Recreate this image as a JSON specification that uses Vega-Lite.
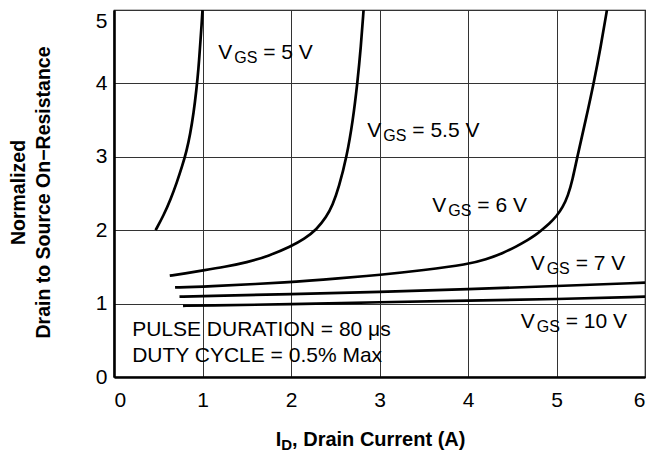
{
  "$schema": "https://vega.github.io/schema/vega-lite/v6.json",
  "width": 531,
  "height": 367,
  "autosize": {"type": "none"},
  "padding": {"left": 114, "top": 10, "right": 13, "bottom": 76},
  "background": "white",
  "config": {
    "view": {"stroke": "black", "strokeWidth": 1.2},
    "font": "Liberation Sans"
  },
  "datasets": {
    "curves": [
      {"series": "5", "x": 0.47, "y": 2.0},
      {"series": "5", "x": 0.56, "y": 2.2},
      {"series": "5", "x": 0.64, "y": 2.42},
      {"series": "5", "x": 0.71, "y": 2.65},
      {"series": "5", "x": 0.77, "y": 2.87},
      {"series": "5", "x": 0.82, "y": 3.08},
      {"series": "5", "x": 0.86, "y": 3.3},
      {"series": "5", "x": 0.9, "y": 3.6},
      {"series": "5", "x": 0.93, "y": 3.9},
      {"series": "5", "x": 0.955, "y": 4.2},
      {"series": "5", "x": 0.975, "y": 4.55},
      {"series": "5", "x": 0.99, "y": 4.8},
      {"series": "5", "x": 1.0, "y": 5.0},
      {"series": "5.5", "x": 0.63, "y": 1.38},
      {"series": "5.5", "x": 0.8, "y": 1.41},
      {"series": "5.5", "x": 1.0, "y": 1.45},
      {"series": "5.5", "x": 1.25, "y": 1.5},
      {"series": "5.5", "x": 1.5, "y": 1.56},
      {"series": "5.5", "x": 1.75, "y": 1.65},
      {"series": "5.5", "x": 2.0, "y": 1.78},
      {"series": "5.5", "x": 2.15, "y": 1.88},
      {"series": "5.5", "x": 2.29, "y": 2.01},
      {"series": "5.5", "x": 2.4, "y": 2.18},
      {"series": "5.5", "x": 2.47, "y": 2.34},
      {"series": "5.5", "x": 2.54, "y": 2.58},
      {"series": "5.5", "x": 2.63, "y": 3.0},
      {"series": "5.5", "x": 2.7, "y": 3.5},
      {"series": "5.5", "x": 2.75, "y": 4.0},
      {"series": "5.5", "x": 2.79, "y": 4.5},
      {"series": "5.5", "x": 2.82, "y": 5.0},
      {"series": "6", "x": 0.69, "y": 1.22},
      {"series": "6", "x": 1.0, "y": 1.23},
      {"series": "6", "x": 2.0, "y": 1.29},
      {"series": "6", "x": 2.55, "y": 1.345},
      {"series": "6", "x": 3.0, "y": 1.39},
      {"series": "6", "x": 3.5, "y": 1.455},
      {"series": "6", "x": 4.0, "y": 1.535},
      {"series": "6", "x": 4.2, "y": 1.6},
      {"series": "6", "x": 4.4, "y": 1.69},
      {"series": "6", "x": 4.55, "y": 1.78},
      {"series": "6", "x": 4.68, "y": 1.87},
      {"series": "6", "x": 4.76, "y": 1.93},
      {"series": "6", "x": 4.83, "y": 2.0},
      {"series": "6", "x": 4.92, "y": 2.09},
      {"series": "6", "x": 5.0, "y": 2.19},
      {"series": "6", "x": 5.07, "y": 2.31},
      {"series": "6", "x": 5.13, "y": 2.47},
      {"series": "6", "x": 5.18, "y": 2.68},
      {"series": "6", "x": 5.235, "y": 3.0},
      {"series": "6", "x": 5.33, "y": 3.5},
      {"series": "6", "x": 5.42, "y": 4.0},
      {"series": "6", "x": 5.5, "y": 4.5},
      {"series": "6", "x": 5.57, "y": 5.0},
      {"series": "7", "x": 0.74, "y": 1.094},
      {"series": "7", "x": 1.0, "y": 1.1},
      {"series": "7", "x": 2.0, "y": 1.13},
      {"series": "7", "x": 3.0, "y": 1.16},
      {"series": "7", "x": 4.0, "y": 1.195},
      {"series": "7", "x": 5.0, "y": 1.24},
      {"series": "7", "x": 6.0, "y": 1.285},
      {"series": "10", "x": 0.78, "y": 0.97},
      {"series": "10", "x": 1.0, "y": 0.973},
      {"series": "10", "x": 2.0, "y": 0.99},
      {"series": "10", "x": 3.0, "y": 1.02},
      {"series": "10", "x": 4.0, "y": 1.04},
      {"series": "10", "x": 5.0, "y": 1.06},
      {"series": "10", "x": 6.0, "y": 1.095}
    ],
    "labels": [
      {"x": 1.178, "y": 4.33, "rest": "= 5 V"},
      {"x": 2.862, "y": 3.27, "rest": "= 5.5 V"},
      {"x": 3.597, "y": 2.244, "rest": "= 6 V"},
      {"x": 4.708, "y": 1.458, "rest": "= 7 V"},
      {"x": 4.596, "y": 0.663, "rest": "= 10 V"}
    ],
    "notes": [
      {"x": 0.205, "y": 0.559, "text": "PULSE DURATION = 80 μs"},
      {"x": 0.205, "y": 0.208, "text": "DUTY CYCLE = 0.5% Max"}
    ],
    "xtitle": [
      {"x": 1.827, "y": -0.936, "main": "I", "sub": "D", "rest": ", Drain Current (A)"}
    ]
  },
  "encoding": {
    "x": {
      "field": "x",
      "type": "quantitative",
      "scale": {"domain": [0, 6], "nice": false, "zero": false},
      "axis": {
        "title": null,
        "values": [0, 1, 2, 3, 4, 5, 6],
        "grid": true,
        "gridColor": "#333333",
        "gridWidth": 1,
        "ticks": false,
        "tickSize": 0,
        "domainColor": "black",
        "domainWidth": 2.6,
        "labelFont": "Liberation Sans",
        "labelFontSize": 21,
        "labelColor": "black",
        "labelPadding": 12,
        "labelOverlap": false
      }
    },
    "y": {
      "field": "y",
      "type": "quantitative",
      "scale": {"domain": [0, 5], "nice": false, "zero": false},
      "axis": {
        "title": ["Normalized", "Drain to Source On−Resistance"],
        "values": [0, 1, 2, 3, 4, 5],
        "grid": true,
        "gridColor": "#333333",
        "gridWidth": 1,
        "ticks": false,
        "tickSize": 0,
        "domainColor": "black",
        "domainWidth": 2.6,
        "labelFont": "Liberation Sans",
        "labelFontSize": 21,
        "labelColor": "black",
        "labelPadding": 7,
        "labelOverlap": false,
        "labelBaseline": {"condition": {"test": "datum.value == 5", "value": "top"}, "value": "middle"},
        "titleFont": "Liberation Sans",
        "titleFontSize": 19.5,
        "titleFontWeight": "bold",
        "titleColor": "black",
        "titleAngle": -90,
        "titleAlign": "center",
        "titleBaseline": "middle",
        "titleLineHeight": 25,
        "titleX": -96,
        "titleY": 182
      }
    }
  },
  "layer": [
    {
      "data": {"name": "curves"},
      "mark": {"type": "line", "color": "black", "strokeWidth": 2.7, "interpolate": "basis", "clip": true},
      "encoding": {"detail": {"field": "series", "type": "nominal"}, "order": {"field": "x", "type": "quantitative"}}
    },
    {
      "data": {"name": "labels"},
      "mark": {"type": "text", "text": "V", "align": "left", "baseline": "alphabetic", "fontSize": 21, "font": "Liberation Sans", "color": "black"}
    },
    {
      "data": {"name": "labels"},
      "mark": {"type": "text", "text": "GS", "align": "left", "baseline": "alphabetic", "fontSize": 16, "dx": 16, "dy": 4, "font": "Liberation Sans", "color": "black"}
    },
    {
      "data": {"name": "labels"},
      "mark": {"type": "text", "align": "left", "baseline": "alphabetic", "fontSize": 21, "dx": 45, "font": "Liberation Sans", "color": "black"},
      "encoding": {"text": {"field": "rest", "type": "nominal"}}
    },
    {
      "data": {"name": "notes"},
      "mark": {"type": "text", "align": "left", "baseline": "alphabetic", "fontSize": 21, "font": "Liberation Sans", "color": "black"},
      "encoding": {"text": {"field": "text", "type": "nominal"}}
    },
    {
      "data": {"name": "xtitle"},
      "mark": {"type": "text", "align": "left", "baseline": "alphabetic", "fontSize": 20, "fontWeight": "bold", "font": "Liberation Sans", "color": "black"},
      "encoding": {"text": {"field": "main", "type": "nominal"}}
    },
    {
      "data": {"name": "xtitle"},
      "mark": {"type": "text", "align": "left", "baseline": "alphabetic", "fontSize": 15, "fontWeight": "bold", "dx": 5.6, "dy": 4, "font": "Liberation Sans", "color": "black"},
      "encoding": {"text": {"field": "sub", "type": "nominal"}}
    },
    {
      "data": {"name": "xtitle"},
      "mark": {"type": "text", "align": "left", "baseline": "alphabetic", "fontSize": 20, "fontWeight": "bold", "dx": 16.4, "font": "Liberation Sans", "color": "black"},
      "encoding": {"text": {"field": "rest", "type": "nominal"}}
    }
  ]
}
